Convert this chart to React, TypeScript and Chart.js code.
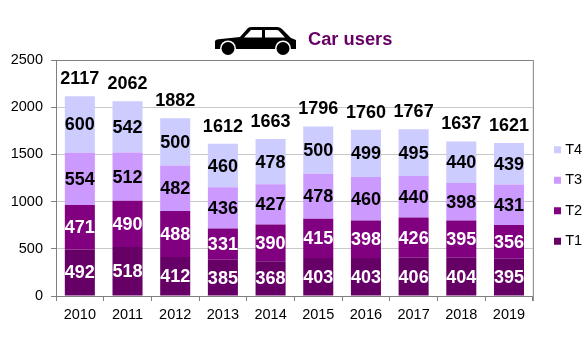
import React, { useEffect, useRef } from "react";
import { Chart, registerables } from "chart.js";

Chart.register(...registerables);

const years = ["2010", "2011", "2012", "2013", "2014", "2015", "2016", "2017", "2018", "2019"];
const t1 = [492, 518, 412, 385, 368, 403, 403, 406, 404, 395];
const t2 = [471, 490, 488, 331, 390, 415, 398, 426, 395, 356];
const t3 = [554, 512, 482, 436, 427, 478, 460, 440, 398, 431];
const t4 = [600, 542, 500, 460, 478, 500, 499, 495, 440, 439];
const totals = [2117, 2062, 1882, 1612, 1663, 1796, 1760, 1767, 1637, 1621];
const titleText = "Car users";
const FONT = "'Liberation Sans', Arial, sans-serif";

const layoutPlugin = {
  id: "legendShift",
  afterLayout(chart: any) {
    const l = chart.legend;
    l.top -= 12;
    l.bottom -= 12;
    l.left = 541;
  },
};

const labelsPlugin = {
  id: "barLabels",
  afterDatasetsDraw(chart: any) {
    const { ctx, chartArea: a } = chart;
    ctx.save();
    ctx.strokeStyle = "#808080";
    ctx.lineWidth = 1;
    ctx.beginPath();
    ctx.moveTo(a.right + 0.5, a.top);
    ctx.lineTo(a.right + 0.5, a.bottom + 5);
    ctx.stroke();
    ctx.font = `bold 18px ${FONT}`;
    ctx.textAlign = "center";
    ctx.textBaseline = "middle";
    chart.data.datasets.forEach((ds: any, i: number) => {
      const meta = chart.getDatasetMeta(i);
      meta.data.forEach((bar: any, j: number) => {
        ctx.fillStyle = i < 2 ? "#ffffff" : "#000000";
        ctx.fillText(String(ds.data[j]), bar.x, (bar.y + bar.base) / 2 + 1);
        if (i === chart.data.datasets.length - 1) {
          ctx.fillStyle = "#000000";
          ctx.fillText(String(totals[j]), bar.x, bar.y - 17);
        }
      });
    });
    ctx.restore();
  },
};

const headerPlugin = {
  id: "header",
  afterDraw(chart: any) {
    const { ctx } = chart;
    ctx.save();
    ctx.fillStyle = "#660066";
    ctx.font = `bold 18.3px ${FONT}`;
    ctx.textAlign = "left";
    ctx.textBaseline = "middle";
    ctx.fillText(titleText, 308, 40);
    ctx.fillStyle = "#000000";
    ctx.translate(215, 27);
    const body = new Path2D(
      "M0 14 Q1 12 6 12 L25 10 L33 1 Q34 0 37 0 L62 0 Q65 0 67 2 L76 11 L81 13 L81 22 L0 22 Z"
    );
    const win = new Path2D("M29 10.5 L36 3 L47 3 L47 10.5 Z M50 3 L62 3 Q63 3 64 4 L70 10.5 L50 10.5 Z");
    ctx.fill(body);
    ctx.fillStyle = "#ffffff";
    ctx.fill(win);
    for (const cx of [13, 68]) {
      ctx.beginPath();
      ctx.arc(cx, 21.5, 8, 0, Math.PI * 2);
      ctx.fillStyle = "#ffffff";
      ctx.fill();
      ctx.beginPath();
      ctx.arc(cx, 21.5, 6.5, 0, Math.PI * 2);
      ctx.fillStyle = "#000000";
      ctx.fill();
    }
    ctx.restore();
  },
};

export default function App() {
  const ref = useRef<HTMLCanvasElement>(null);
  useEffect(() => {
    const chart = new Chart(ref.current!, {
      type: "bar",
      data: {
        labels: years,
        datasets: [
          { label: "T1", data: t1, backgroundColor: "#660066" },
          { label: "T2", data: t2, backgroundColor: "#800080" },
          { label: "T3", data: t3, backgroundColor: "#CC99FF" },
          { label: "T4", data: t4, backgroundColor: "#CCCCFF" },
        ],
      },
      options: {
        responsive: false,
        animation: false,
        layout: { padding: { top: 60, right: 3, left: 0, bottom: 0 } },
        datasets: { bar: { barPercentage: 0.63, categoryPercentage: 1 } },
        plugins: {
          title: { display: false },
          tooltip: { enabled: false },
          legend: {
            position: "right",
            reverse: true,
            align: "center",
            labels: {
              usePointStyle: true,
              pointStyle: "rect",
              boxWidth: 1,
              boxHeight: 7,
              padding: 16,
              color: "#000000",
              font: { family: FONT, size: 14.5 },
            },
          },
        },
        scales: {
          x: {
            stacked: true,
            afterFit(s: any) {
              s.height = 59;
            },
            border: { color: "#808080" },
            grid: { offset: true, drawOnChartArea: false, drawTicks: true, tickLength: 5, color: "#808080" },
            ticks: { color: "#000000", font: { family: FONT, size: 14.5 }, padding: 5, maxRotation: 0 },
          },
          y: {
            stacked: true,
            min: 0,
            max: 2500,
            afterFit(s: any) {
              s.width = 56;
            },
            border: { color: "#808080" },
            grid: {
              color: (c: any) => (c.tick.value === 2500 ? "#808080" : "#c8c8c8"),
              tickColor: "#808080",
              tickLength: 5,
            },
            ticks: {
              stepSize: 500,
              color: "#000000",
              font: { family: FONT, size: 14.5 },
              padding: 8,
              callback: (v: any) => String(v),
            },
          },
        },
      } as any,
      plugins: [layoutPlugin, labelsPlugin, headerPlugin],
    });
    return () => chart.destroy();
  }, []);
  return (
    <div style={{ position: "fixed", left: 0, top: 0, width: 587, height: 355 }}>
      <canvas ref={ref} width={587} height={355} style={{ display: "block" }} />
    </div>
  );
}
